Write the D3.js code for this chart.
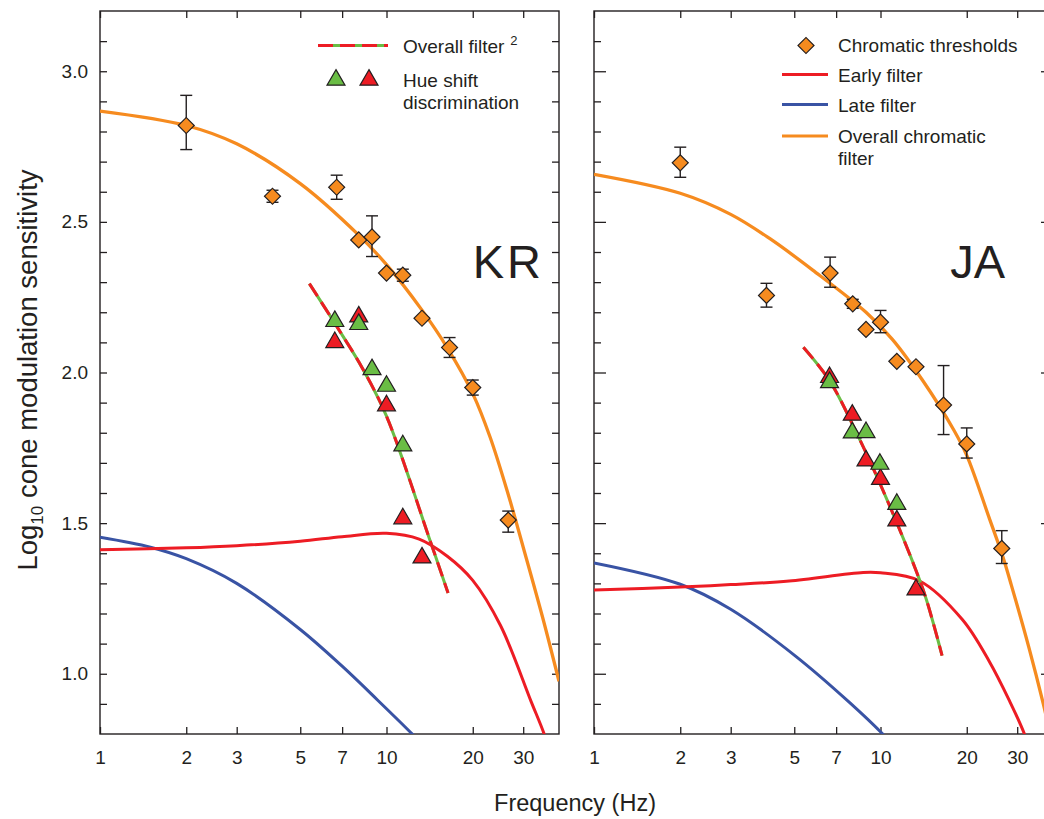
<!DOCTYPE html>
<html lang="en">
<head>
<meta charset="utf-8">
<title>Cone modulation sensitivity</title>
<script src="https://d3js.org/d3.v7.min.js"></script>
<style>
  body { margin: 0; background: #fff; }
  text { font-family: "Liberation Sans", Arial, sans-serif; fill: #231f20; }
</style>
</head>
<body>
<script>
// values: [frequency (Hz), log10 sensitivity]
var freqTicks = [1, 2, 3, 5, 7, 10, 20, 30];
var sensTicks = d3.range(9, 32).map(function(d){ return d / 10; });

// --- observer KR ---
var krThresholds = [
  {f: 2,    v: 2.82,  lo: 2.74,  hi: 2.92},
  {f: 4,    v: 2.585, lo: 2.565, hi: 2.605},
  {f: 6.7,  v: 2.615, lo: 2.575, hi: 2.655},
  {f: 8,    v: 2.44,  lo: 2.44,  hi: 2.44},
  {f: 8.9,  v: 2.45,  lo: 2.385, hi: 2.52},
  {f: 10,   v: 2.33,  lo: 2.33,  hi: 2.33},
  {f: 11.4, v: 2.323, lo: 2.303, hi: 2.343},
  {f: 13.3, v: 2.18,  lo: 2.18,  hi: 2.18},
  {f: 16.6, v: 2.083, lo: 2.05,  hi: 2.116},
  {f: 20,   v: 1.95,  lo: 1.925, hi: 1.975},
  {f: 26.6, v: 1.51,  lo: 1.47,  hi: 1.54}
];
var krGreen = [[6.6, 2.17], [8.0, 2.16], [8.9, 2.01], [10, 1.955], [11.4, 1.757]];
var krRed   = [[6.6, 2.10], [8.0, 2.185], [10, 1.89], [11.4, 1.515], [13.3, 1.385]];
var krOverallSq = [[5.38, 2.295], [6.85, 2.139], [8.22, 2.016], [10, 1.855], [14.1, 1.45], [16.4, 1.268]];
var krChromatic = [[1, 2.868], [2, 2.82], [3, 2.759], [5, 2.627], [8, 2.456], [10, 2.358], [13.3, 2.207],
                   [16.3, 2.082], [20, 1.93], [23, 1.785], [26.6, 1.595], [30, 1.42], [35, 1.19], [40, 0.975]];
var krEarly = [[1, 1.412], [2, 1.418], [3, 1.425], [5, 1.44], [7, 1.455], [10, 1.466], [13, 1.447],
               [16.3, 1.39], [20, 1.31], [25, 1.16], [31.9, 0.91], [35.5, 0.8], [38, 0.71]];
var krLate = [[1, 1.453], [1.5, 1.42], [2, 1.382], [3, 1.30], [5, 1.147], [7, 1.025], [9.3, 0.913], [12.6, 0.79], [14, 0.745]];

// --- observer JA ---
var jaThresholds = [
  {f: 2,    v: 2.696, lo: 2.648, hi: 2.748},
  {f: 4,    v: 2.256, lo: 2.217, hi: 2.296},
  {f: 6.67, v: 2.33,  lo: 2.283, hi: 2.383},
  {f: 8,    v: 2.228, lo: 2.213, hi: 2.243},
  {f: 8.9,  v: 2.143, lo: 2.143, hi: 2.143},
  {f: 10,   v: 2.167, lo: 2.132, hi: 2.206},
  {f: 11.4, v: 2.037, lo: 2.037, hi: 2.037},
  {f: 13.3, v: 2.019, lo: 2.019, hi: 2.019},
  {f: 16.6, v: 1.892, lo: 1.794, hi: 2.023},
  {f: 20,   v: 1.763, lo: 1.716, hi: 1.816},
  {f: 26.5, v: 1.416, lo: 1.366, hi: 1.475}
];
var jaGreen = [[6.64, 1.967], [7.97, 1.80], [8.9, 1.801], [9.95, 1.696], [11.4, 1.563]];
var jaRed   = [[6.64, 1.984], [7.97, 1.859], [8.9, 1.707], [10, 1.646], [11.4, 1.508], [13.3, 1.279]];
var jaOverallSq = [[5.38, 2.084], [6.64, 1.973], [8.18, 1.807], [10.7, 1.563], [14, 1.286], [15.2, 1.176], [16.4, 1.06]];
var jaChromatic = [[1, 2.658], [2, 2.595], [3, 2.525], [4.1, 2.445], [5.8, 2.34], [8.9, 2.20], [11, 2.11],
                   [14, 1.975], [18, 1.81], [20, 1.725], [24, 1.515], [26.7, 1.39], [28.6, 1.295], [33, 1.085], [37, 0.90], [40, 0.76]];
var jaEarly = [[1, 1.278], [2, 1.288], [3, 1.296], [4.8, 1.308], [8.7, 1.336], [10, 1.335], [13.7, 1.308],
               [19.3, 1.18], [24, 1.04], [28.2, 0.91], [31.8, 0.8], [35, 0.68]];
var jaLate = [[1, 1.368], [2, 1.297], [3, 1.214], [5, 1.062], [7.79, 0.905], [10.3, 0.795], [12, 0.724]];

var ink = "#231f20", orange = "#f68b1f", red = "#ed1c24", blue = "#3953a4", green = "#6abd45";
var plotTop = 11, plotBottom = 734;

var svg = d3.select("body").append("svg")
    .attr("width", 1044)
    .attr("height", 819);

var y = d3.scaleLinear().domain([0.8, 3.2]).range([plotBottom, plotTop]);
var isMajor = function(d){ return Math.abs(d * 2 - Math.round(d * 2)) < 1e-6; };

function drawPanel(p) {
  var x = d3.scaleLog().domain([1, 40]).range([p.x0, p.x1]);
  var g = svg.append("g");

  g.append("clipPath").attr("id", "clip-" + p.name)
    .append("rect").attr("x", p.x0).attr("y", plotTop)
    .attr("width", p.x1 - p.x0).attr("height", plotBottom - plotTop);

  // axes: ticks point inward on all four sides
  var xb = g.append("g").attr("transform", "translate(0," + plotBottom + ")")
    .call(d3.axisBottom(x).tickValues(freqTicks).tickFormat(d3.format("d"))
      .tickSizeInner(-7).tickSizeOuter(0).tickPadding(17));
  var xt = g.append("g").attr("transform", "translate(0," + plotTop + ")")
    .call(d3.axisTop(x).tickValues(freqTicks).tickFormat("").tickSizeInner(-7).tickSizeOuter(0));
  var yl = g.append("g").attr("transform", "translate(" + p.x0 + ",0)")
    .call(d3.axisLeft(y).tickValues(sensTicks)
      .tickFormat(function(d){ return p.labels && isMajor(d) ? d.toFixed(1) : ""; })
      .tickSizeInner(-7).tickSizeOuter(0).tickPadding(12));
  var yr = g.append("g").attr("transform", "translate(" + p.x1 + ",0)")
    .call(d3.axisRight(y).tickValues(sensTicks).tickFormat("").tickSizeInner(-7).tickSizeOuter(0));

  [xb, xt, yl, yr].forEach(function(a){
    a.select(".domain").remove();
    a.attr("font-size", 19).attr("font-family", null).attr("color", ink);
    a.selectAll(".tick line").attr("stroke-width", 1.3);
  });
  if (p.longMajor) {
    yl.selectAll(".tick line").attr("x2", function(d){ return isMajor(d) ? 12 : 7; });
    yr.selectAll(".tick line").attr("x2", function(d){ return isMajor(d) ? -12 : -7; });
  }

  g.append("rect").attr("x", p.x0).attr("y", plotTop)
    .attr("width", p.x1 - p.x0).attr("height", plotBottom - plotTop)
    .attr("fill", "none").attr("stroke", ink).attr("stroke-width", 1.4);

  var line = d3.line()
    .x(function(d){ return x(d[0]); })
    .y(function(d){ return y(d[1]); })
    .curve(d3.curveCatmullRom.alpha(0.5));

  var curves = g.append("g").attr("clip-path", "url(#clip-" + p.name + ")").attr("fill", "none");
  curves.append("path").attr("d", line(p.late)).attr("stroke", blue).attr("stroke-width", 3);
  curves.append("path").attr("d", line(p.early)).attr("stroke", red).attr("stroke-width", 3);
  curves.append("path").attr("d", line(p.chromatic)).attr("stroke", orange).attr("stroke-width", 3.3);
  curves.append("path").attr("d", line(p.overallSq)).attr("stroke", green).attr("stroke-width", 3);
  curves.append("path").attr("d", line(p.overallSq)).attr("stroke", red).attr("stroke-width", 3)
    .attr("stroke-dasharray", "15,7");

  // error bars
  var eb = g.append("g").attr("stroke", ink).attr("stroke-width", 1.4)
    .selectAll("g").data(p.thresholds.filter(function(d){ return d.hi > d.lo; }))
    .join("g");
  eb.append("line")
    .attr("x1", function(d){ return x(d.f); }).attr("x2", function(d){ return x(d.f); })
    .attr("y1", function(d){ return y(d.lo); }).attr("y2", function(d){ return y(d.hi); });
  eb.append("line")
    .attr("x1", function(d){ return x(d.f) - 6; }).attr("x2", function(d){ return x(d.f) + 6; })
    .attr("y1", function(d){ return y(d.lo); }).attr("y2", function(d){ return y(d.lo); });
  eb.append("line")
    .attr("x1", function(d){ return x(d.f) - 6; }).attr("x2", function(d){ return x(d.f) + 6; })
    .attr("y1", function(d){ return y(d.hi); }).attr("y2", function(d){ return y(d.hi); });

  var diamond = d3.symbol(d3.symbolSquare, 128);
  var tri = d3.symbol(d3.symbolTriangle, 140);

  g.append("g").selectAll("path").data(p.thresholds).join("path")
    .attr("d", diamond)
    .attr("transform", function(d){ return "translate(" + x(d.f) + "," + y(d.v) + ") rotate(45)"; })
    .attr("fill", orange).attr("stroke", ink).attr("stroke-width", 1.2);

  g.append("g").selectAll("path").data(p.red).join("path")
    .attr("d", tri)
    .attr("transform", function(d){ return "translate(" + x(d[0]) + "," + y(d[1]) + ")"; })
    .attr("fill", red).attr("stroke", ink).attr("stroke-width", 1.2);
  g.append("g").selectAll("path").data(p.green).join("path")
    .attr("d", tri)
    .attr("transform", function(d){ return "translate(" + x(d[0]) + "," + y(d[1]) + ")"; })
    .attr("fill", green).attr("stroke", ink).attr("stroke-width", 1.2);

  g.append("text").attr("x", p.labelX).attr("y", 278)
    .attr("text-anchor", "end").attr("font-size", 47)
    .attr("letter-spacing", p.spacing)
    .text(p.name);
}

drawPanel({name: "KR", x0: 100, x1: 559, labels: true, longMajor: false, labelX: 544, spacing: 3,
  thresholds: krThresholds, green: krGreen, red: krRed, overallSq: krOverallSq,
  chromatic: krChromatic, early: krEarly, late: krLate});
drawPanel({name: "JA", x0: 594, x1: 1053, labels: false, longMajor: true, labelX: 1005, spacing: 0,
  thresholds: jaThresholds, green: jaGreen, red: jaRed, overallSq: jaOverallSq,
  chromatic: jaChromatic, early: jaEarly, late: jaLate});

// legend, left panel
var lg = svg.append("g").attr("font-size", 19);
lg.append("line").attr("x1", 318).attr("x2", 388).attr("y1", 45.5).attr("y2", 45.5)
  .attr("stroke", green).attr("stroke-width", 3);
lg.append("line").attr("x1", 318).attr("x2", 388).attr("y1", 45.5).attr("y2", 45.5)
  .attr("stroke", red).attr("stroke-width", 3).attr("stroke-dasharray", "15,7");
var t1 = lg.append("text").attr("x", 403).attr("y", 52.5).text("Overall filter");
t1.append("tspan").attr("dx", 6).attr("dy", -8).attr("font-size", 13).text("2");
lg.append("path").attr("d", d3.symbol(d3.symbolTriangle, 140))
  .attr("transform", "translate(336,80)").attr("fill", green).attr("stroke", ink).attr("stroke-width", 1.2);
lg.append("path").attr("d", d3.symbol(d3.symbolTriangle, 140))
  .attr("transform", "translate(369,80)").attr("fill", red).attr("stroke", ink).attr("stroke-width", 1.2);
lg.append("text").attr("x", 403).attr("y", 87).text("Hue shift");
lg.append("text").attr("x", 403).attr("y", 109).text("discrimination");

// legend, right panel
var rg = svg.append("g").attr("font-size", 19);
rg.append("path").attr("d", d3.symbol(d3.symbolSquare, 128))
  .attr("transform", "translate(806,45.5) rotate(45)").attr("fill", orange).attr("stroke", ink).attr("stroke-width", 1.2);
rg.append("text").attr("x", 838).attr("y", 52).text("Chromatic thresholds");
[[red, 74.5, "Early filter"], [blue, 104.5, "Late filter"], [orange, 136, "Overall chromatic"]].forEach(function(r){
  rg.append("line").attr("x1", 782).attr("x2", 828).attr("y1", r[1]).attr("y2", r[1])
    .attr("stroke", r[0]).attr("stroke-width", 3);
  rg.append("text").attr("x", 838).attr("y", r[1] + 7).text(r[2]);
});
rg.append("text").attr("x", 838).attr("y", 165).text("filter");

// axis titles
svg.append("text").attr("x", 575).attr("y", 811).attr("text-anchor", "middle")
  .attr("font-size", 23.5).text("Frequency (Hz)");
var yt = svg.append("text").attr("transform", "translate(37,370) rotate(-90)")
  .attr("text-anchor", "middle").attr("font-size", 27.5);
yt.append("tspan").text("Log");
yt.append("tspan").attr("font-size", 17).attr("dy", 6).text("10");
yt.append("tspan").attr("dy", -6).text(" cone modulation sensitivity");
</script>
</body>
</html>
